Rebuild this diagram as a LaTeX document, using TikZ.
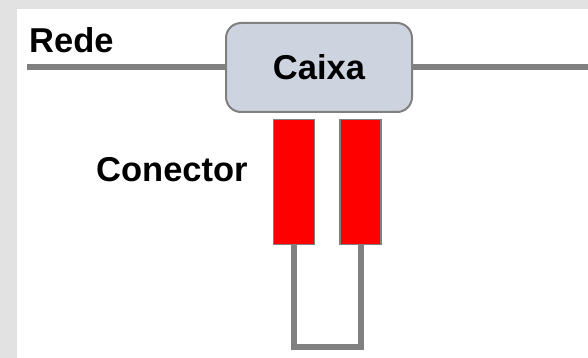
\documentclass[tikz,border=0pt]{standalone}
\usepackage{fontspec}
\setmainfont{Liberation Sans}
\usepackage{xcolor}
\usepackage{tikz}
\usetikzlibrary{positioning}

\definecolor{caixafill}{RGB}{205,212,224}
\definecolor{fiogray}{RGB}{128,128,128}
\definecolor{fundo}{RGB}{226,226,226}

\begin{document}
\begin{tikzpicture}[
      x=1pt, y=-1pt,
      caixabox/.style={draw=fiogray,line width=2pt,rounded corners=15pt,fill=caixafill,
        minimum width=186pt,minimum height=89pt,inner sep=0pt,
        font=\fontsize{34.5}{40}\selectfont\bfseries},
      pino/.style={draw=fiogray,line width=1.5pt,fill=red,minimum width=41pt,minimum height=125pt,inner sep=0pt},
      fio/.style={draw=fiogray,line width=6pt},
      rotulo/.style={inner sep=0pt,font=\fontsize{34.5}{40}\selectfont\bfseries}
      ]

      \useasboundingbox (0,0) rectangle (588,358);
      \fill[fundo] (0,0) rectangle (588,9);
      \fill[fundo] (0,0) rectangle (17,358);

      \node[caixabox] (caixa) at (319,67.5) {\raisebox{-2pt}{Caixa}};
      \node[pino] (pinoA) at (294,182) {};
      \node[pino, right=24pt of pinoA] (pinoB) {};

      \node[rotulo, anchor=base west] (rede) at (29,52.7) {Rede};
      \node[rotulo, anchor=base west] (conector) at (96,181.7) {Conector};

      \coordinate (redeL) at (27,67.5);
      \coordinate (redeR) at (588,67.5);
      \coordinate (laco) at (326,346.5);

      \path (redeL) edge[fio] (caixa.west)
      (caixa.east) edge[fio] (redeR)
      ;
      \draw[fio] (pinoA.south) |- (laco) -| (pinoB.south);
    \end{tikzpicture}
\end{document}
